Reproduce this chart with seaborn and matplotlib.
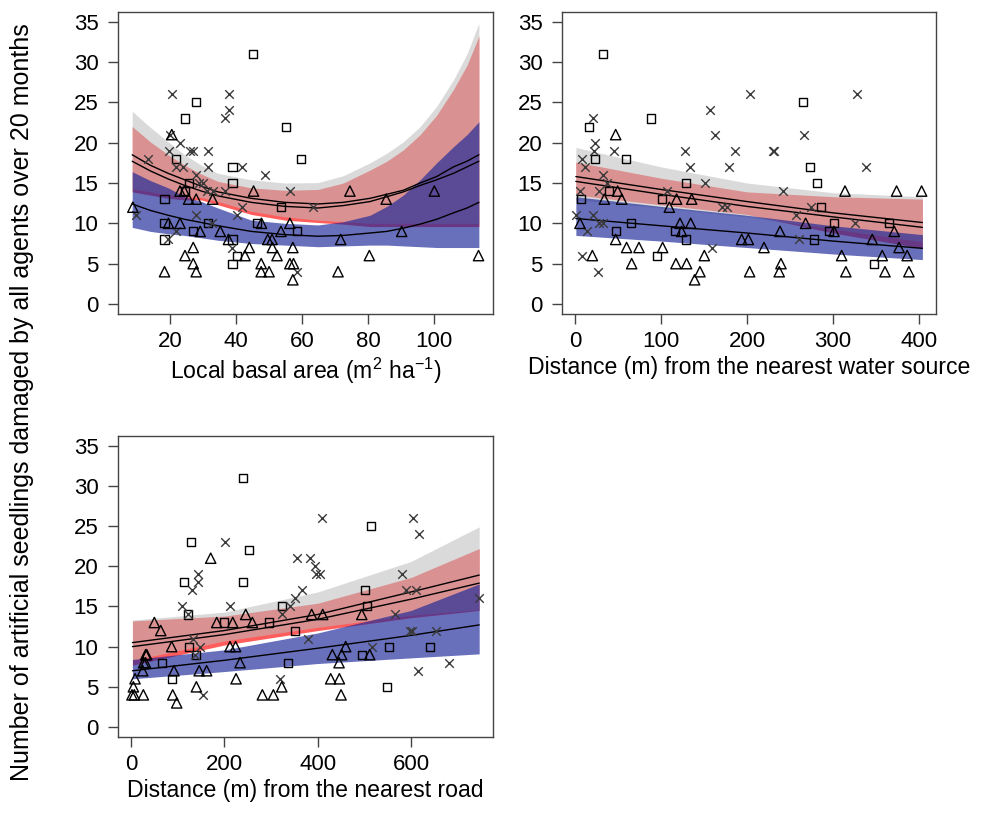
import matplotlib
matplotlib.use("Agg")
import matplotlib.pyplot as plt
import seaborn as sns
import numpy as np

sns.set_theme(style="white")
plt.rcParams['font.family'] = ['Liberation Sans', 'DejaVu Sans']
plt.rcParams['mathtext.fontset'] = 'custom'
plt.rcParams['mathtext.rm'] = 'Liberation Sans'
plt.rcParams['mathtext.it'] = 'Liberation Sans:italic'
plt.rcParams['mathtext.default'] = 'regular'
plt.rcParams['text.color'] = 'black'
plt.rcParams['axes.labelcolor'] = 'black'
plt.rcParams['xtick.labelcolor'] = 'black'
plt.rcParams['ytick.labelcolor'] = 'black'

# ---------------- Panel 1: local basal area ----------------
p1_sq_x = [45.2, 27.9, 24.4, 55.0, 21.9, 38.9, 59.8, 25.6, 38.9, 24.5, 18.3, 53.5, 18.3, 31.4, 46.2, 27.0, 58.5, 18.3, 38.9, 40.3, 38.9]
p1_sq_y = [31, 25, 23, 22, 18, 17, 18, 15, 15, 14, 13, 12, 10, 10, 10, 9, 9, 8, 8, 6, 5]
p1_x_x = [20.5, 37.9, 37.9, 36.7, 20.0, 23.1, 19.6, 25.9, 27.0, 31.4, 31.4, 41.7, 13.2, 21.8, 23.9, 48.9, 27.9, 28.9, 30.1, 31.1, 32.9, 36.5, 56.3, 41.7, 63.4, 40.2, 27.8, 9.7, 21.8, 32.6, 19.5, 38.9, 58.4]
p1_x_y = [26, 26, 24, 23, 21, 20, 19, 19, 19, 19, 17, 17, 18, 17, 17, 16, 16, 15, 15, 14, 14, 14, 14, 12, 12, 11, 11, 11, 9, 10, 8, 7, 4]
p1_tr_x = [8.7, 20.5, 23.0, 24.3, 25.6, 27.9, 32.9, 45.3, 19.5, 23.0, 29.1, 35.2, 37.7, 56.3, 47.7, 53.6, 49.6, 50.9, 57.2, 27.0, 44.0, 51.0, 24.5, 42.7, 52.4, 27.0, 47.6, 56.3, 57.4, 18.3, 27.9, 47.6, 50.0, 57.2, 74.5, 85.5, 100.1, 90.2, 71.7, 80.4, 113.5, 70.9]
p1_tr_y = [12, 21, 14, 14, 13, 13, 13, 14, 10, 10, 9, 9, 8, 10, 10, 9, 8, 8, 7, 7, 7, 7, 6, 6, 6, 5, 5, 5, 5, 4, 4, 4, 4, 3, 14, 13, 14, 9, 8, 6, 6, 4]

p1_cx =       [8.5, 14, 19.4, 24.4, 29.5, 34.5, 44.6, 54.8, 64.8, 72.5, 80.6, 85.7, 90.7, 95.8, 100.8, 105.9, 110, 113.6]
p1_A =        [18.5, 17.2, 16.2, 15.4, 14.6, 13.9, 13.1, 12.6, 12.4, 12.6, 13.1, 13.6, 14.1, 15.0, 15.8, 17.0, 17.7, 18.5]
p1_B =        [17.7, 16.5, 15.5, 14.7, 14.0, 13.4, 12.6, 12.1, 11.9, 12.2, 12.7, 13.3, 13.9, 14.7, 15.4, 16.2, 17.0, 17.7]
p1_C =        [12.4, 11.6, 11.0, 10.5, 10.1, 9.7, 9.0, 8.6, 8.4, 8.5, 8.8, 9.0, 9.4, 9.9, 10.5, 11.3, 11.9, 12.6]
p1_gray_hi =  [23.9, 21.9, 20.1, 18.5, 17.2, 16.2, 15.4, 15.0, 15.05, 15.9, 17.5, 18.7, 20.1, 22.0, 24.5, 27.8, 31.0, 34.8]
p1_gray_lo =  [14.3, 13.9, 13.5, 13.3, 13.2, 12.7, 11.5, 10.8, 10.4, 10.2, 10.0, 10.0, 10.0, 10.0, 10.0, 10.0, 10.0, 10.0]
p1_red_hi =   [22.0, 20.1, 18.5, 17.2, 16.1, 15.2, 14.4, 14.1, 14.2, 15.0, 16.6, 17.7, 19.1, 21.0, 23.4, 26.6, 29.6, 33.2]
p1_red_lo =   [13.9, 13.5, 13.1, 12.9, 12.9, 12.3, 11.1, 10.4, 10.1, 9.9, 9.6, 9.6, 9.6, 9.6, 9.6, 9.6, 9.6, 9.6]
p1_blue_hi =  [16.4, 15.3, 14.4, 13.3, 12.7, 11.9, 10.4, 10.0, 9.8, 10.2, 11.0, 12.1, 13.5, 15.4, 17.5, 19.5, 21.0, 22.6]
p1_blue_lo =  [9.5, 9.0, 8.7, 8.5, 8.2, 7.9, 7.5, 7.3, 7.1, 7.2, 7.3, 7.3, 7.2, 7.1, 7.0, 7.0, 7.0, 7.0]

# ---------------- Panel 2: distance from water ----------------
p2_sq_x = [33, 16.7, 88, 22.9, 58.9, 128.7, 39.5, 6.6, 100.8, 64.7, 47.3, 116.3, 128.7, 95.7, 265.5, 273.3, 281, 286, 301, 295.7, 365, 278.3, 347.3]
p2_sq_y = [31, 22, 23, 18, 18, 15, 14, 13, 13, 10, 9, 9, 8, 6, 25, 17, 15, 12, 10, 9, 10, 8, 5]
p2_x_x = [21.3, 22.9, 22.0, 45.7, 7.8, 11.6, 32.2, 36.8, 28.3, 5.8, 1.2, 21.3, 28.3, 32.9, 13.6, 7.8, 27.1, 157, 162.8, 127.9, 133.7, 186, 179, 203.9, 231.8, 151.6, 106.6, 170.5, 176.4, 159.3, 327.5, 266.7, 230.6, 338.3, 242.3, 274, 256.6, 325.5, 260.5]
p2_x_y = [23, 20, 19, 19, 18, 17, 16, 15, 14, 14, 11, 11, 10, 10, 9, 6, 4, 24, 21, 19, 17, 19, 17, 26, 19, 15, 14, 12, 12, 7, 26, 21, 19, 17, 14, 12, 11, 10, 8]
p2_tr_x = [47.3, 49.6, 34.1, 54.3, 118.2, 135.7, 109.7, 5.8, 122.1, 134.5, 124, 47.3, 193.8, 201.6, 60, 74.4, 101.9, 219.8, 20.2, 150.4, 65.9, 117.4, 129.8, 145.3, 139.1, 203.1, 314, 374, 403.1, 268.2, 238.4, 301.2, 371.3, 345.7, 376.8, 357.3, 386.3, 310.1, 239.5, 237.5, 315, 360.5, 388.3]
p2_tr_y = [21, 14, 13, 13, 13, 13, 12, 10, 10, 10, 9, 8, 8, 8, 7, 7, 7, 7, 6, 6, 5, 5, 5, 4, 3, 4, 14, 14, 14, 10, 9, 9, 9, 8, 7, 6, 6, 6, 5, 4, 4, 4, 4]

p2_cx = [1, 100, 200, 300, 404]
p2_A = [15.8, 14.2, 12.7, 11.3, 10.1]
p2_B = [15.2, 13.6, 12.1, 10.8, 9.5]
p2_C = [10.6, 9.7, 8.8, 7.8, 6.9]
p2_gray_hi = [19.4, 17.0, 15.0, 13.8, 13.3]
p2_gray_lo = [12.9, 11.9, 10.8, 9.3, 7.7]
p2_red_hi = [17.6, 15.6, 13.9, 13.3, 13.0]
p2_red_lo = [13.5, 12.3, 11.1, 8.8, 6.9]
p2_blue_hi = [13.3, 12.1, 11.0, 9.7, 8.6]
p2_blue_lo = [8.5, 7.8, 7.0, 6.2, 5.5]

# ---------------- Panel 3: distance from road ----------------
p3_sq_x = [240.7, 127.9, 252.9, 113.6, 240.7, 121.4, 322.9, 200, 295, 351.4, 123.6, 138.6, 67.1, 87.1, 337, 513.6, 502.1, 505, 494.4, 553.6, 640.7, 548.6]
p3_sq_y = [31, 23, 22, 18, 18, 14, 15, 13, 13, 12, 10, 9, 8, 6, 8, 25, 17, 15, 9, 10, 10, 5]
p3_x_x = [201.4, 142.9, 142.9, 130, 108.6, 121.4, 212, 132, 147.9, 137, 155, 319, 356, 383.6, 394, 396, 405, 365.7, 351.4, 340.7, 322.9, 380, 408.6, 603.6, 617.1, 579.9, 589.2, 609.9, 565.7, 517, 598, 603, 653.6, 745, 680.6, 615.7]
p3_x_y = [23, 19, 18, 17, 15, 14, 15, 11, 10, 9, 4, 6, 21, 21, 20, 19, 19, 17, 16, 15, 14, 11, 26, 26, 24, 19, 17, 17, 14, 10, 12, 12, 12, 16, 8, 7]
p3_tr_x = [387, 410.7, 494.4, 459.9, 431.4, 451.4, 511.4, 445.7, 427.8, 446.4, 450, 170.7, 50, 63.6, 183.6, 217.9, 245.7, 260, 87.1, 31.4, 33.6, 27, 31, 25, 8.6, 5, 212, 224, 92, 146, 162, 233.6, 225, 140, 323, 7, 26.4, 89.3, 97.9, 281.4, 305, 2]
p3_tr_y = [14, 14, 14, 10, 9, 9, 9, 8, 6, 6, 4, 21, 13, 12, 13, 13, 14, 13, 10, 9, 9, 8, 8, 7, 6, 5, 10, 10, 7, 7, 7, 8, 6, 5, 5, 4, 4, 4, 3, 4, 4, 4]

p3_cx = [3, 200, 400, 600, 746]
p3_A = [10.5, 12.0, 14.0, 16.8, 18.9]
p3_B = [10.0, 11.5, 13.4, 15.9, 17.9]
p3_C = [7.0, 8.3, 9.8, 11.4, 12.7]
p3_gray_hi = [13.3, 14.3, 16.8, 20.6, 24.9]
p3_gray_lo = [8.3, 10.7, 12.4, 13.9, 14.6]
p3_red_hi = [13.2, 13.8, 15.4, 18.6, 22.2]
p3_red_lo = [7.7, 10.2, 12.0, 13.6, 14.5]
p3_blue_hi = [8.4, 9.6, 11.7, 14.5, 17.8]
p3_blue_lo = [6.0, 6.9, 7.9, 8.6, 9.1]

y_ticks = [0, 5, 10, 15, 20, 25, 30, 35]
p1_xticks = [20, 40, 60, 80, 100]
p2_xticks = [0, 100, 200, 300, 400]
p3_xticks = [0, 200, 400, 600]

xlabels = [r"Local basal area (m$^{2}$ ha$^{-1}$)",
           "Distance (m) from the nearest water source",
           "Distance (m) from the nearest road"]
ylabel = "Number of artificial seedlings damaged by all agents over 20 months"

RED = (1.0, 0.36, 0.36)
GRAY = (0.74, 0.74, 0.74)
BLUE = (0.10, 0.15, 0.60)
FRAME = "#444444"

fig = plt.figure(figsize=(9.81, 8.13), dpi=100)
ax1 = fig.add_axes([0.1203, 0.6138, 0.3823, 0.3714])
ax2 = fig.add_axes([0.5729, 0.6138, 0.3812, 0.3714])
ax3 = fig.add_axes([0.1203, 0.0935, 0.3823, 0.3702])

panels = [
    (ax1, p1_sq_x, p1_sq_y, p1_x_x, p1_x_y, p1_tr_x, p1_tr_y, p1_cx, p1_A, p1_B, p1_C,
     p1_gray_hi, p1_gray_lo, p1_red_hi, p1_red_lo, p1_blue_hi, p1_blue_lo, p1_xticks, (4.2, 117.9)),
    (ax2, p2_sq_x, p2_sq_y, p2_x_x, p2_x_y, p2_tr_x, p2_tr_y, p2_cx, p2_A, p2_B, p2_C,
     p2_gray_hi, p2_gray_lo, p2_red_hi, p2_red_lo, p2_blue_hi, p2_blue_lo, p2_xticks, (-15.1, 419.8)),
    (ax3, p3_sq_x, p3_sq_y, p3_x_x, p3_x_y, p3_tr_x, p3_tr_y, p3_cx, p3_A, p3_B, p3_C,
     p3_gray_hi, p3_gray_lo, p3_red_hi, p3_red_lo, p3_blue_hi, p3_blue_lo, p3_xticks, (-27.9, 775.7)),
]

for i, (ax, sqx, sqy, xx, xy, trx, tr_y, cx, A, B, C, ghi, glo, rhi, rlo, bhi, blo, xt, xl) in enumerate(panels):
    ax.fill_between(cx, rlo, rhi, color=RED, alpha=1.0, lw=0, zorder=1)
    ax.fill_between(cx, glo, ghi, color=GRAY, alpha=0.55, lw=0, zorder=2)
    ax.fill_between(cx, blo, bhi, color=BLUE, alpha=0.66, lw=0, zorder=3)
    for yy in (A, B, C):
        sns.lineplot(x=cx, y=yy, color="black", lw=1.0, ax=ax, estimator=None,
                     sort=False, zorder=4)
    sns.scatterplot(x=sqx, y=sqy, marker="s", s=34, facecolors="none", edgecolor="black",
                    linewidth=1.0, ax=ax, zorder=5)
    sns.scatterplot(x=xx, y=xy, marker="x", s=38, color="#3a3a3a",
                    linewidth=1.0, ax=ax, zorder=5)
    sns.scatterplot(x=trx, y=tr_y, marker="^", s=55, facecolors="none", edgecolor="black",
                    linewidth=1.0, ax=ax, zorder=5)
    ax.set_xlim(*xl)
    ax.set_ylim(-1.24, 36.2)
    ax.set_xticks(xt)
    ax.set_yticks(y_ticks)
    ax.tick_params(axis="both", which="both", direction="out", length=7, width=1,
                   color=FRAME, labelsize=16, bottom=True, left=True)
    ax.tick_params(axis="y", pad=7)
    ax.tick_params(axis="x", pad=5)
    for sp in ax.spines.values():
        sp.set_color(FRAME)
        sp.set_linewidth(1.0)
    ax.set_xlabel(xlabels[i], fontsize=16.6, labelpad=3)
    ax.set_ylabel("")
    ax.grid(False)

fig.text(0.022, 0.505, ylabel, rotation=90, ha="center", va="center", fontsize=18)

fig.savefig("out.png", dpi=100)
